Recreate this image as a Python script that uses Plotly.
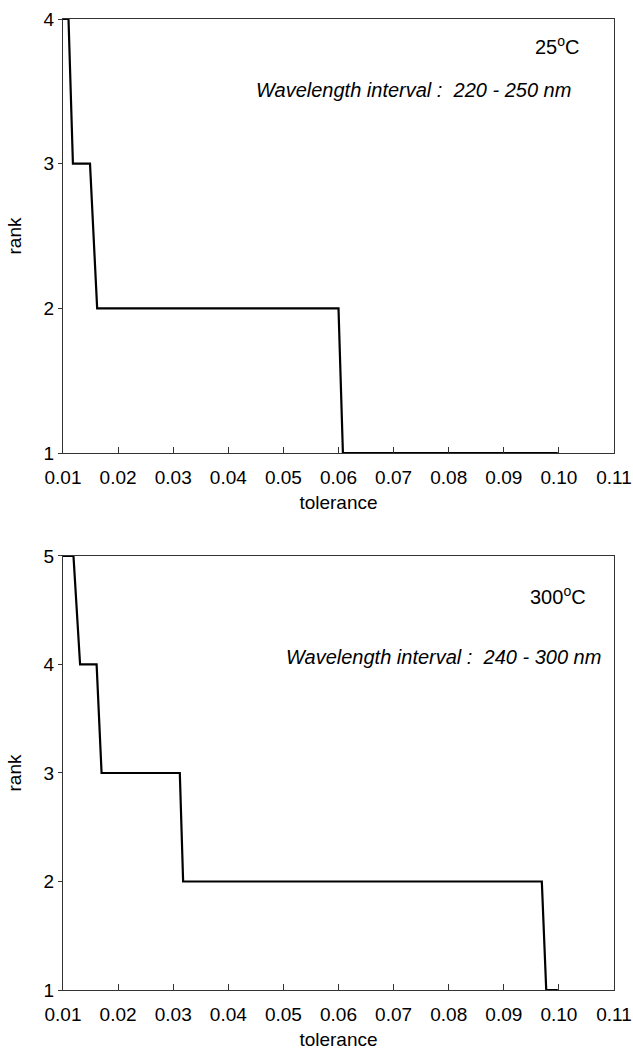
import plotly.graph_objects as go

# Data
top_tol = [0.010, 0.0110, 0.0118, 0.0149, 0.0162, 0.0600, 0.0608, 0.0998]
top_rank = [4, 4, 3, 3, 2, 2, 1, 1]
bottom_tol = [0.010, 0.0119, 0.0131, 0.0161, 0.0170, 0.0312, 0.0318, 0.0969, 0.0977, 0.0998]
bottom_rank = [5, 5, 4, 4, 3, 3, 2, 2, 1, 1]
x_ticks = [0.01, 0.02, 0.03, 0.04, 0.05, 0.06, 0.07, 0.08, 0.09, 0.10, 0.11]
x_ticklabels = ["0.01", "0.02", "0.03", "0.04", "0.05", "0.06", "0.07", "0.08", "0.09", "0.10", "0.11"]
top_yticks = [1, 2, 3, 4]
bottom_yticks = [1, 2, 3, 4, 5]

FONT = "Liberation Sans, Arial, Helvetica, sans-serif"

fig = go.Figure()
fig.add_trace(go.Scatter(x=top_tol, y=top_rank, mode="lines",
                         line=dict(color="black", width=2.2), cliponaxis=False,
                         xaxis="x", yaxis="y", showlegend=False))
fig.add_trace(go.Scatter(x=bottom_tol, y=bottom_rank, mode="lines",
                         line=dict(color="black", width=2.2), cliponaxis=False,
                         xaxis="x2", yaxis="y2", showlegend=False))

xcommon = dict(range=[0.01, 0.11], tickvals=x_ticks, ticktext=x_ticklabels,
               ticks="inside", ticklen=6, tickcolor="#333", tickwidth=1,
               showline=True, linecolor="#333", linewidth=1.3, mirror=True,
               showgrid=False, zeroline=False, automargin=False,
               ticklabelstandoff=7,
               tickfont=dict(size=19, color="black", family=FONT),
               title=dict(text="tolerance", font=dict(size=19, color="black", family=FONT), standoff=8))
ycommon = dict(ticks="outside", ticklen=4, tickcolor="#333", tickwidth=1,
               showline=True, linecolor="#333", linewidth=1.3, mirror=True,
               showgrid=False, zeroline=False, automargin=False,
               tickfont=dict(size=19, color="black", family=FONT),
               title=dict(text="rank", font=dict(size=19, color="black", family=FONT), standoff=16))

fig.update_layout(
    width=633, height=1053,
    margin=dict(l=63, r=19, t=19, b=63),
    paper_bgcolor="white", plot_bgcolor="white",
    xaxis=dict(**xcommon, domain=[0, 1], anchor="y"),
    yaxis=dict(**ycommon, domain=[0.553, 1], range=[1, 4], tickvals=top_yticks, anchor="x"),
    xaxis2=dict(**xcommon, domain=[0, 1], anchor="y2"),
    yaxis2=dict(**ycommon, domain=[0, 0.447], range=[1, 5], tickvals=bottom_yticks, anchor="x2"),
    font=dict(family=FONT, color="black"),
    annotations=[
        dict(x=0.1042, y=3.82, xref="x", yref="y", text="25<sup>o</sup>C", showarrow=False,
             xanchor="right", yanchor="middle", font=dict(size=20, family=FONT, color="black")),
        dict(x=0.1026, y=3.51, xref="x", yref="y", text="<i>Wavelength interval :&nbsp; 220 - 250 nm</i>",
             showarrow=False, xanchor="right", yanchor="middle", font=dict(size=20, family=FONT, color="black")),
        dict(x=0.1053, y=4.64, xref="x2", yref="y2", text="300<sup>o</sup>C", showarrow=False,
             xanchor="right", yanchor="middle", font=dict(size=20, family=FONT, color="black")),
        dict(x=0.1080, y=4.07, xref="x2", yref="y2", text="<i>Wavelength interval :&nbsp; 240 - 300 nm</i>",
             showarrow=False, xanchor="right", yanchor="middle", font=dict(size=20, family=FONT, color="black")),
    ],
)

fig.write_html("out.html")
